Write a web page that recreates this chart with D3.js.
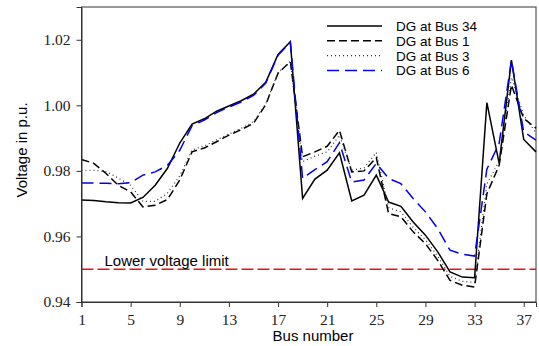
<!DOCTYPE html>
<html>
<head>
<meta charset="utf-8">
<script src="https://cdn.jsdelivr.net/npm/d3@7"></script>
<style>
  html, body { margin: 0; padding: 0; background: #fff; overflow: hidden; }
  svg { display: block; }
</style>
</head>
<body>
<div id="chart"></div>
<script>
// Bus numbers 1..38
const buses = d3.range(1, 39);

// Voltage profiles (p.u.)
const dgBus34 = [0.9711, 0.9710, 0.9706, 0.9703, 0.9702, 0.9719, 0.9756, 0.9808, 0.9885, 0.9943,
  0.9959, 0.9982, 0.9998, 1.0014, 1.0034, 1.0070, 1.0155, 1.0194, 0.9716, 0.9775,
  0.9802, 0.9855, 0.9708, 0.9726, 0.9787, 0.9705, 0.9692, 0.9644, 0.9604, 0.9553,
  0.9492, 0.9476, 0.9474, 1.0008, 0.9823, 1.0138, 0.9896, 0.9858];
const dgBus1 = [0.9835, 0.9823, 0.9792, 0.9756, 0.9736, 0.9690, 0.9695, 0.9713, 0.9772, 0.9858,
  0.9870, 0.9889, 0.9909, 0.9926, 0.9945, 1.0002, 1.0098, 1.0133, 0.9843, 0.9858,
  0.9875, 0.9924, 0.9797, 0.9800, 0.9840, 0.9670, 0.9660, 0.9614, 0.9578, 0.9527,
  0.9466, 0.9451, 0.9446, 0.9730, 0.9817, 1.0062, 0.9960, 0.9930];
const dgBus3 = [0.9802, 0.9802, 0.9798, 0.9778, 0.9756, 0.9707, 0.9707, 0.9732, 0.9785, 0.9864,
  0.9876, 0.9895, 0.9912, 0.9930, 0.9950, 1.0004, 1.0100, 1.0135, 0.9828, 0.9845,
  0.9858, 0.9909, 0.9802, 0.9809, 0.9856, 0.9688, 0.9675, 0.9628, 0.9590, 0.9540,
  0.9478, 0.9463, 0.9460, 0.9760, 0.9830, 1.0085, 0.9970, 0.9915];
const dgBus6 = [0.9763, 0.9763, 0.9762, 0.9761, 0.9764, 0.9787, 0.9797, 0.9817, 0.9863, 0.9938,
  0.9955, 0.9978, 0.9995, 1.0010, 1.0030, 1.0068, 1.0153, 1.0193, 0.9777, 0.9804,
  0.9828, 0.9886, 0.9766, 0.9772, 0.9823, 0.9777, 0.9761, 0.9716, 0.9675, 0.9624,
  0.9558, 0.9546, 0.9540, 0.9805, 0.9884, 1.0138, 0.9919, 0.9894];

const seriesNames = ["DG at Bus 34", "DG at Bus 1", "DG at Bus 3", "DG at Bus 6"];
const xTicks = [1, 5, 9, 13, 17, 21, 25, 29, 33, 37];
const yTicks = [0.94, 0.96, 0.98, 1.00, 1.02];
const voltageLimit = 0.95;

const series = [
  { name: seriesNames[0], values: dgBus34, color: "#000", dash: null, width: 1.5 },
  { name: seriesNames[1], values: dgBus1, color: "#000", dash: "8,4", width: 1.5 },
  { name: seriesNames[2], values: dgBus3, color: "#333", dash: "1,3", width: 1.2 },
  { name: seriesNames[3], values: dgBus6, color: "#0000ee", dash: "12,6", width: 1.5 }
];

const width = 539, height = 346;
const margin = { top: 7, right: 3, bottom: 44, left: 81.5 };
const innerWidth = width - margin.left - margin.right;
const innerHeight = height - margin.top - margin.bottom;

const svg = d3.select("#chart").append("svg")
  .attr("width", width)
  .attr("height", height);

const g = svg.append("g")
  .attr("transform", `translate(${margin.left},${margin.top})`);

const xScale = d3.scaleLinear().domain([1, 38]).range([0, innerWidth]);
const yScale = d3.scaleLinear().domain([0.94, 1.03]).range([innerHeight, 0]);

// frame
g.append("rect")
  .attr("width", innerWidth)
  .attr("height", innerHeight)
  .attr("fill", "none")
  .attr("stroke", "#333")
  .attr("stroke-width", 1);

// lower voltage limit
g.append("line")
  .attr("x1", 0).attr("x2", innerWidth)
  .attr("y1", yScale(voltageLimit)).attr("y2", yScale(voltageLimit))
  .attr("stroke", "#f01010")
  .attr("stroke-width", 1.5)
  .attr("stroke-dasharray", "12,4");

g.append("text")
  .attr("x", 23)
  .attr("y", yScale(voltageLimit) - 3)
  .attr("font-family", "Liberation Sans, Arial, sans-serif")
  .attr("font-size", 15)
  .attr("fill", "#000")
  .text("Lower voltage limit");

// series lines
const line = d3.line()
  .x((d, i) => xScale(buses[i]))
  .y(d => yScale(d));

g.selectAll(".series")
  .data(series)
  .enter()
  .append("path")
  .attr("class", "series")
  .attr("d", d => line(d.values))
  .attr("fill", "none")
  .attr("stroke", d => d.color)
  .attr("stroke-width", d => d.width)
  .attr("stroke-dasharray", d => d.dash);

// axes
const xAxis = d3.axisBottom(xScale).tickValues(xTicks).tickSize(5).tickFormat(d3.format("d"));
const gx = g.append("g")
  .attr("transform", `translate(0,${innerHeight})`)
  .call(xAxis);
gx.selectAll(".tick text").attr("dy", null).attr("y", 23);

const yAxis = d3.axisLeft(yScale).tickValues(yTicks).tickSize(5).tickPadding(6).tickFormat(d3.format(".2f"));
const gy = g.append("g").call(yAxis);

[gx, gy].forEach(a => {
  a.select(".domain").attr("stroke", "#333");
  a.selectAll(".tick line").attr("stroke", "#333");
  a.selectAll(".tick text")
    .attr("font-family", "Liberation Serif, Times New Roman, serif")
    .attr("font-size", 15.5)
    .attr("fill", "#222");
});

// axis labels
svg.append("text")
  .attr("x", 313)
  .attr("y", 341)
  .attr("text-anchor", "middle")
  .attr("font-family", "Liberation Sans, Arial, sans-serif")
  .attr("font-size", 15)
  .text("Bus number");

svg.append("text")
  .attr("transform", "rotate(-90)")
  .attr("x", -150)
  .attr("y", 27)
  .attr("text-anchor", "middle")
  .attr("font-family", "Liberation Sans, Arial, sans-serif")
  .attr("font-size", 15)
  .text("Voltage in p.u.");

// legend
const legend = svg.append("g").attr("transform", "translate(327,26)");
const items = legend.selectAll(".item")
  .data(series)
  .enter()
  .append("g")
  .attr("transform", (d, i) => `translate(0,${i * 14.8})`);

items.append("line")
  .attr("x1", 0).attr("x2", 55)
  .attr("stroke", d => d.color)
  .attr("stroke-width", d => d.width)
  .attr("stroke-dasharray", d => d.dash);

items.append("text")
  .attr("x", 69)
  .attr("y", 5)
  .attr("font-family", "Liberation Sans, Arial, sans-serif")
  .attr("font-size", 13.5)
  .text(d => d.name);
</script>
</body>
</html>
